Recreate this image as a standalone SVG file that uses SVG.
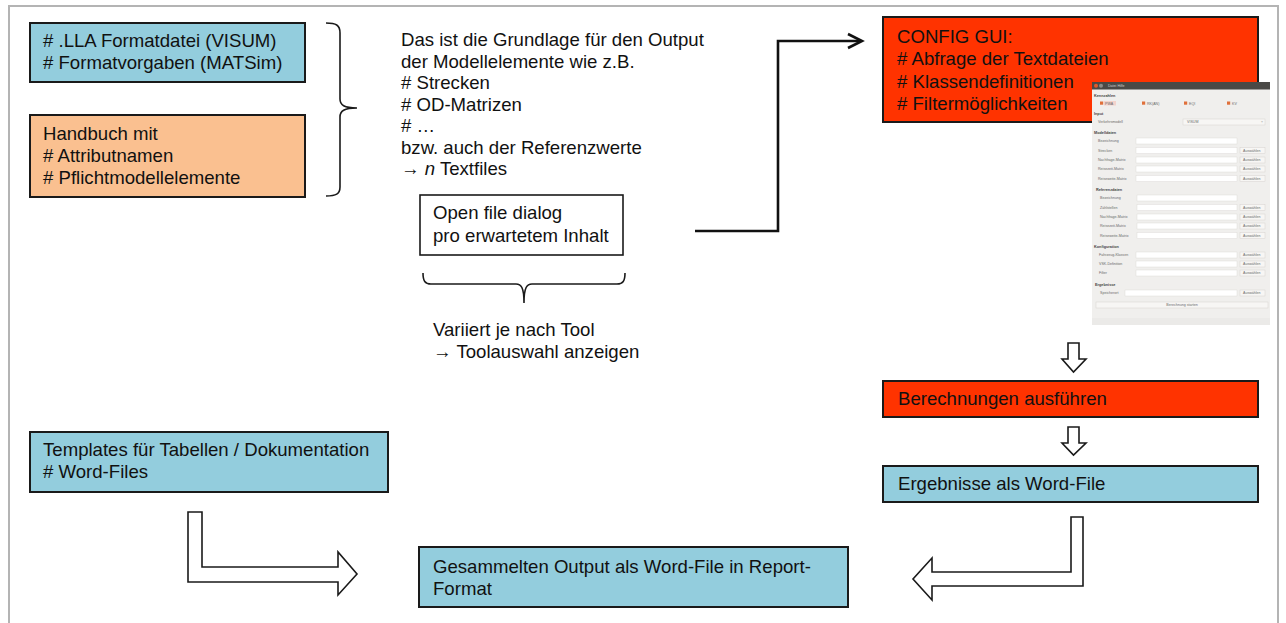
<svg xmlns="http://www.w3.org/2000/svg" width="1286" height="623" viewBox="0 0 1286 623">
<style>
  .t{font-family:"Liberation Sans",Arial,sans-serif;font-size:18.6px;fill:#111}
  .box{stroke:#1a1a1a;stroke-width:2}
  .blue{fill:#93CDDD}
  .orange{fill:#FAC090}
  .red{fill:#FF3300}
  .brace{fill:none;stroke:#1a1a1a;stroke-width:1.6}
  .blk{fill:#fff;stroke:#1a1a1a;stroke-width:1.6;stroke-linejoin:miter}
  .s{font-family:"Liberation Sans",Arial,sans-serif;font-size:3.6px;fill:#6a6a6a}
  .sh{font-family:"Liberation Sans",Arial,sans-serif;font-size:3.8px;font-weight:bold;fill:#444}
  .fld{fill:#fff;stroke:#d8d6d2;stroke-width:0.4}
  .btn{fill:#f7f6f4;stroke:#cfccc8;stroke-width:0.4}
  .cb{fill:#e0703a}
</style>
<rect x="0" y="0" width="1286" height="623" fill="#fff"/>
<rect x="9" y="6" width="1269" height="640" fill="none" stroke="#b4b4b4" stroke-width="2"/>

<g id="node-lla">
  <rect class="box blue" x="30" y="23" width="275" height="59"/>
  <text class="t" x="43" y="47"># .LLA Formatdatei (VISUM)</text>
  <text class="t" x="43" y="69"># Formatvorgaben (MATSim)</text>
</g>
<g id="node-handbuch">
  <rect class="box orange" x="30" y="115" width="275" height="82"/>
  <text class="t" x="43" y="140">Handbuch  mit</text>
  <text class="t" x="43" y="162"># Attributnamen</text>
  <text class="t" x="43" y="184"># Pflichtmodellelemente</text>
</g>
<g id="brace-right">
  <path class="brace" d="M326,23 C336,23 340,25 340,33 L340,99 C340,105 344,108 357,108 M357,108 C344,108 340,111 340,117 L340,187 C340,194 336,196 326,196"/>
</g>
<g id="node-grundlage">
  <text class="t" x="401" y="46">Das ist die Grundlage für den Output</text>
  <text class="t" x="401" y="67.5">der Modellelemente wie z.B.</text>
  <text class="t" x="401" y="89"># Strecken</text>
  <text class="t" x="401" y="110.5"># OD-Matrizen</text>
  <text class="t" x="401" y="132"># …</text>
  <text class="t" x="401" y="153.5">bzw. auch der Referenzwerte</text>
  <text class="t" x="401" y="175">→ <tspan font-style="italic">n</tspan> Textfiles</text>
</g>
<g id="node-openfile">
  <rect x="420" y="195" width="203" height="60" fill="#fff" stroke="#1a1a1a" stroke-width="1.6"/>
  <text class="t" x="433" y="219">Open file dialog</text>
  <text class="t" x="433" y="241.5">pro erwartetem Inhalt</text>
</g>
<g id="brace-bottom">
  <path class="brace" d="M423,273 C423,281 425,284 431,284 L516,284 C521,284 524,287 524,303 M524,303 C524,287 527,284 532,284 L617,284 C623,284 625,281 625,273"/>
</g>
<g id="node-variiert">
  <text class="t" x="433" y="336">Variiert je nach Tool</text>
  <text class="t" x="433" y="357.5">→ Toolauswahl anzeigen</text>
</g>

<g id="node-config">
  <rect class="box red" x="883" y="17" width="375" height="105"/>
  <text class="t" x="897" y="43">CONFIG GUI:</text>
  <text class="t" x="897" y="65"># Abfrage der Textdateien</text>
  <text class="t" x="897" y="87.5"># Klassendefinitionen</text>
  <text class="t" x="897" y="110"># Filtermöglichkeiten</text>
</g>

<g id="node-screenshot">
  <rect x="1092" y="89" width="178" height="236" fill="#f0efed"/>
  <rect x="1092" y="318" width="178" height="7" fill="#ebeae8"/>
  <rect x="1092" y="82" width="178" height="7.5" fill="#4a4946"/>
  <circle cx="1096" cy="85.8" r="2" fill="#e2582a"/>
  <circle cx="1101" cy="85.8" r="2" fill="#8c8b88"/>
  <text class="s" x="1108" y="87.2" style="fill:#cfcfcf">Datei  Hilfe</text>

  <text class="sh" x="1094" y="97">Kennzahlen</text>
  <rect x="1104" y="101" width="12" height="4.5" fill="#f3d3cc"/>
  <rect class="cb" x="1100" y="101.5" width="3.2" height="3.2"/>
  <text class="s" x="1105" y="104.5">PWA</text>
  <rect class="cb" x="1142" y="101.5" width="3.2" height="3.2"/>
  <text class="s" x="1147" y="104.5">RK(AN)</text>
  <rect class="cb" x="1184" y="101.5" width="3.2" height="3.2"/>
  <text class="s" x="1189" y="104.5">EQI</text>
  <rect class="cb" x="1227" y="101.5" width="3.2" height="3.2"/>
  <text class="s" x="1232" y="104.5">KV</text>

  <text class="sh" x="1094" y="115">Input</text>
  <text class="s" x="1098" y="123.3">Verkehrsmodell</text>
  <rect class="btn" x="1183" y="119" width="82" height="6"/>
  <text class="s" x="1187" y="123.3">VISUM</text>
  <text class="s" x="1261" y="123.3">÷</text>

  <text class="sh" x="1094" y="134">Modelldaten</text>
  <text class="s" x="1098" y="142.3">Bezeichnung</text>
  <rect class="fld" x="1136" y="138" width="101" height="6"/>
  <text class="s" x="1098" y="151.8">Strecken</text>
  <rect class="fld" x="1136" y="147.5" width="101" height="6"/>
  <rect class="btn" x="1240" y="147.5" width="25" height="6"/>
  <text class="s" x="1243" y="151.8">Auswählen</text>
  <text class="s" x="1098" y="161.3">Nachfrage-Matrix</text>
  <rect class="fld" x="1136" y="157" width="101" height="6"/>
  <rect class="btn" x="1240" y="157" width="25" height="6"/>
  <text class="s" x="1243" y="161.3">Auswählen</text>
  <text class="s" x="1098" y="170.3">Reisezeit-Matrix</text>
  <rect class="fld" x="1136" y="166" width="101" height="6"/>
  <rect class="btn" x="1240" y="166" width="25" height="6"/>
  <text class="s" x="1243" y="170.3">Auswählen</text>
  <text class="s" x="1098" y="179.8">Reiseweite-Matrix</text>
  <rect class="fld" x="1136" y="175.5" width="101" height="6"/>
  <rect class="btn" x="1240" y="175.5" width="25" height="6"/>
  <text class="s" x="1243" y="179.8">Auswählen</text>

  <text class="sh" x="1096" y="191">Referenzdaten</text>
  <text class="s" x="1100" y="199.3">Bezeichnung</text>
  <rect class="fld" x="1137" y="195" width="100" height="6"/>
  <text class="s" x="1100" y="208.8">Zählstellen</text>
  <rect class="fld" x="1137" y="204.5" width="100" height="6"/>
  <rect class="btn" x="1240" y="204.5" width="25" height="6"/>
  <text class="s" x="1243" y="208.8">Auswählen</text>
  <text class="s" x="1100" y="218.3">Nachfrage-Matrix</text>
  <rect class="fld" x="1137" y="214" width="100" height="6"/>
  <rect class="btn" x="1240" y="214" width="25" height="6"/>
  <text class="s" x="1243" y="218.3">Auswählen</text>
  <text class="s" x="1100" y="227.3">Reisezeit-Matrix</text>
  <rect class="fld" x="1137" y="223" width="100" height="6"/>
  <rect class="btn" x="1240" y="223" width="25" height="6"/>
  <text class="s" x="1243" y="227.3">Auswählen</text>
  <text class="s" x="1100" y="236.8">Reiseweite-Matrix</text>
  <rect class="fld" x="1137" y="232.5" width="100" height="6"/>
  <rect class="btn" x="1240" y="232.5" width="25" height="6"/>
  <text class="s" x="1243" y="236.8">Auswählen</text>

  <text class="sh" x="1094" y="248">Konfiguration</text>
  <text class="s" x="1099" y="256.3">Fahrzeug-Klassen</text>
  <rect class="fld" x="1136" y="252" width="101" height="6"/>
  <rect class="btn" x="1240" y="252" width="25" height="6"/>
  <text class="s" x="1243" y="256.3">Auswählen</text>
  <text class="s" x="1099" y="265.3">VSK-Definition</text>
  <rect class="fld" x="1136" y="261" width="101" height="6"/>
  <rect class="btn" x="1240" y="261" width="25" height="6"/>
  <text class="s" x="1243" y="265.3">Auswählen</text>
  <text class="s" x="1099" y="274.3">Filter</text>
  <rect class="fld" x="1136" y="270" width="101" height="6"/>
  <rect class="btn" x="1240" y="270" width="25" height="6"/>
  <text class="s" x="1243" y="274.3">Auswählen</text>

  <text class="sh" x="1095" y="286">Ergebnisse</text>
  <text class="s" x="1100" y="294.3">Speicherort</text>
  <rect class="fld" x="1125" y="290" width="112" height="6"/>
  <rect class="btn" x="1240" y="290" width="25" height="6"/>
  <text class="s" x="1243" y="294.3">Auswählen</text>
  <rect class="btn" x="1096" y="302" width="172" height="6"/>
  <text class="s" x="1182" y="306.3" text-anchor="middle">Berechnung starten</text>
</g>

<g id="node-berechnungen">
  <rect class="box red" x="883" y="381" width="375" height="36"/>
  <text class="t" x="898" y="405">Berechnungen ausführen</text>
</g>
<g id="node-ergebnisse">
  <rect class="box blue" x="883" y="466" width="375" height="36"/>
  <text class="t" x="898" y="490">Ergebnisse als Word-File</text>
</g>
<g id="node-templates">
  <rect class="box blue" x="30" y="432" width="358" height="60"/>
  <text class="t" x="43" y="456">Templates für Tabellen / Dokumentation</text>
  <text class="t" x="43" y="478"># Word-Files</text>
</g>
<g id="node-gesammelt">
  <rect class="box blue" x="419" y="547" width="429" height="60"/>
  <text class="t" x="433" y="573">Gesammelten Output als Word-File in Report-</text>
  <text class="t" x="433" y="595">Format</text>
</g>

<g id="connectors">
  <polyline points="695,231 778,231 778,41 861,41" fill="none" stroke="#111" stroke-width="2.6" stroke-linejoin="miter"/>
  <polyline points="848,34 862,41 848,48" fill="none" stroke="#111" stroke-width="2.6" stroke-linejoin="miter"/>
  <path class="blk" d="M1068,343 H1079 V359 H1086 L1073.5,372 L1062,359 H1068 Z"/>
  <path class="blk" d="M1068,427 H1079 V443 H1086 L1073.5,455 L1062,443 H1068 Z"/>
  <path class="blk" d="M188,512 H202 V567 H338 V552 L357,574 L338,595 V582 H188 Z"/>
  <path class="blk" d="M1071,517 H1083 V586 H932 V600 L913,579 L932,558 V572 H1071 Z"/>
</g>
</svg>
